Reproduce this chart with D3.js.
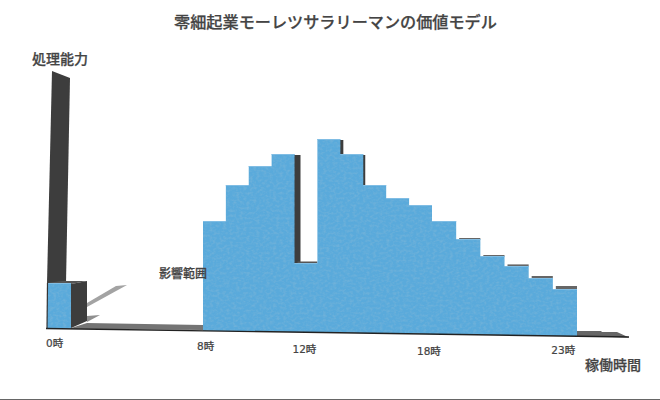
<!DOCTYPE html>
<html>
<head>
<meta charset="utf-8">
<script src="https://cdn.jsdelivr.net/npm/d3@7"></script>
<style>
html, body { margin: 0; padding: 0; background: #fff; }
svg { display: block; }
text { font-family: "Noto Sans CJK JP", "Noto Sans", sans-serif; font-weight: 500; fill: #444; stroke: #444; stroke-width: 0.25px; }
</style>
</head>
<body>
<div id="chart"></div>
<script>
const titleText = "零細起業モーレツサラリーマンの価値モデル";
const yAxisLabel = "処理能力";
const xAxisLabel = "稼働時間";
const rangeLabel = "影響範囲";

const hours = d3.range(0, 24);
const capacity = [23, 0, 0, 0, 0, 0, 0, 0, 54, 72, 81.5, 87.5, 33, 95, 87.5, 72, 65.5, 62, 54, 45, 36.5, 31.5, 25.5, 20];
const tickHours = [0, 8, 12, 18, 23];
const tickLabels = ["0時", "8時", "12時", "18時", "23時"];

const width = 660, height = 400;

let svg = d3.select("#chart").append("svg")
            .attr("width", width)
            .attr("height", height);

// perspective makes the hour spacing uneven
let xScale = d3.scaleLinear()
                .domain([0, 1, 8, 12, 18, 24])
                .range([47, 71, 203, 294.5, 432, 577]);

let yScale = d3.scaleLinear()
                .domain([0, 100])
                .range([329, 129]);

// floor line leans down to the right
let floorY = d3.scaleLinear()
                .domain([47, 629])
                .range([328.5, 337]);

let poly = d3.line();

function addPoly(pts, fill) {
    return svg.append("path").attr("d", poly(pts) + "Z").attr("fill", fill);
}

// paper grain for the blue bars
let defs = svg.append("defs");
let grain = defs.append("filter")
                .attr("id", "paper")
                .attr("x", 0).attr("y", 0)
                .attr("width", 1).attr("height", 1);
grain.append("feTurbulence")
        .attr("type", "fractalNoise")
        .attr("baseFrequency", "0.3 0.4")
        .attr("numOctaves", 2)
        .attr("seed", 7)
        .attr("result", "noise");
grain.append("feColorMatrix")
        .attr("in", "noise")
        .attr("type", "matrix")
        .attr("values", "0 0 0 0 0.25  0 0 0 0 0.5  0 0 0 0 0.68  0 0 0 -0.8 0.48")
        .attr("result", "tint");
grain.append("feComposite").attr("in", "tint").attr("in2", "SourceAlpha").attr("operator", "in").attr("result", "clip");
grain.append("feMerge").selectAll("feMergeNode")
        .data(["SourceGraphic", "clip"])
        .enter().append("feMergeNode").attr("in", d => d);

// ---- floor shadows ----
addPoly([[71, 328], [87, 323], [203, 325], [203, 330], [71, 329]], "#747474");
addPoly([[87, 322], [100, 315], [87, 316]], "#8f8f8f");
addPoly([[87, 307], [127, 285], [116, 286], [87, 303]], "#a3a3a3");
addPoly([[577, 331], [601, 331], [602, 332], [617, 332], [629, 337.5], [577, 336]], "#666");

// ---- axis pillar and the 3d faces ----
addPoly([[52, 71], [70, 78], [66, 283], [47, 283]], "#3d3d3d");
addPoly([[47, 283], [62, 281], [87, 281], [71, 284]], "#555");
addPoly([[71, 284], [87, 281], [87, 321], [71, 328]], "#3d3d3d");

const sideDepth = [[11, 6], [13, 3], [14, 2]];
svg.append("g")
    .selectAll("rect")
    .data(sideDepth)
    .enter()
    .append("rect")
    .attr("x", d => xScale(d[0] + 1) - 1)
    .attr("y", d => yScale(capacity[d[0]]) + 1)
    .attr("width", d => d[1] + 1)
    .attr("height", d => yScale(capacity[d[0] + 1]) - yScale(capacity[d[0]]))
    .attr("fill", "#3d3d3d");

// back edges that show above the falling bars
const backEdge = [[12, 1.5, "#555"], [19, 1, "#666"], [20, 1, "#666"], [21, 1.6, "#666"], [22, 2, "#666"], [23, 3, "#666"]];
svg.append("g")
    .selectAll("rect")
    .data(backEdge)
    .enter()
    .append("rect")
    .attr("x", d => xScale(d[0]) + 3)
    .attr("y", d => yScale(capacity[d[0]]) - d[1])
    .attr("width", d => xScale(d[0] + 1) - xScale(d[0]) - 3)
    .attr("height", d => d[1] + 0.5)
    .attr("fill", d => d[2]);

// ---- bars ----
let barHours = hours.filter(h => capacity[h] > 0);

// neighbouring bars are joined into one outline so no seams show between them
let runs = [];
barHours.forEach(h => {
    let last = runs[runs.length - 1];
    if (last && last[last.length - 1] == h - 1) last.push(h);
    else runs.push([h]);
});

function runPath(run) {
    let pts = [];
    run.forEach(h => {
        pts.push([xScale(h), yScale(capacity[h])]);
        pts.push([xScale(h + 1), yScale(capacity[h])]);
    });
    let x0 = xScale(run[0]), x1 = xScale(run[run.length - 1] + 1);
    pts.push([x1, floorY(x1)]);
    pts.push([x0, floorY(x0)]);
    return poly(pts) + "Z";
}

svg.append("g")
    .attr("filter", "url(#paper)")
    .selectAll("path")
    .data(runs)
    .enter()
    .append("path")
    .attr("d", runPath)
    .attr("fill", "#5aaadb");

// thin highlight on the top of each bar
svg.append("g")
    .selectAll("line")
    .data(barHours)
    .enter()
    .append("line")
    .attr("x1", h => xScale(h))
    .attr("x2", h => xScale(h + 1))
    .attr("y1", h => yScale(capacity[h]) + 0.5)
    .attr("y2", h => yScale(capacity[h]) + 0.5)
    .attr("stroke", "#80bde4")
    .attr("stroke-width", 1);

// ---- axis lines ----
svg.append("line")
    .attr("x1", 46).attr("y1", floorY(46))
    .attr("x2", 629).attr("y2", floorY(629))
    .attr("stroke", "#222")
    .attr("stroke-width", 1.3);

svg.append("line")
    .attr("x1", 47).attr("y1", floorY(47))
    .attr("x2", 47.5).attr("y2", 283)
    .attr("stroke", "#333")
    .attr("stroke-width", 1.2);

// ---- text ----
svg.append("text")
    .attr("x", 335.5).attr("y", 28)
    .attr("text-anchor", "middle")
    .style("font-size", "16.15px")
    .text(titleText);

svg.append("text")
    .attr("x", 32).attr("y", 64)
    .style("font-size", "14px")
    .text(yAxisLabel);

svg.append("text")
    .attr("x", 585).attr("y", 370)
    .style("font-size", "14px")
    .text(xAxisLabel);

svg.append("text")
    .attr("x", 159).attr("y", 278)
    .style("font-size", "12px")
    .text(rangeLabel);

// tick labels sit on their own slightly stepped baseline, digits are the wider DejaVu
const tickShift = [[-1, 347], [-6, 350], [-2, 353], [-15, 355], [-1.5, 354]];
svg.append("g")
    .selectAll("text")
    .data(tickHours)
    .enter()
    .append("text")
    .attr("x", (d, i) => xScale(d) + tickShift[i][0])
    .attr("y", (d, i) => tickShift[i][1])
    .style("font-family", '"DejaVu Sans", "Noto Sans CJK JP", sans-serif')
    .style("font-size", "10.5px")
    .style("stroke-width", "0.2px")
    .text((d, i) => tickLabels[i]);

// bottom rule of the picture
svg.append("line")
    .attr("x1", 0).attr("x2", width)
    .attr("y1", 399.5).attr("y2", 399.5)
    .attr("stroke", "#666")
    .attr("stroke-width", 1);
</script>
</body>
</html>
